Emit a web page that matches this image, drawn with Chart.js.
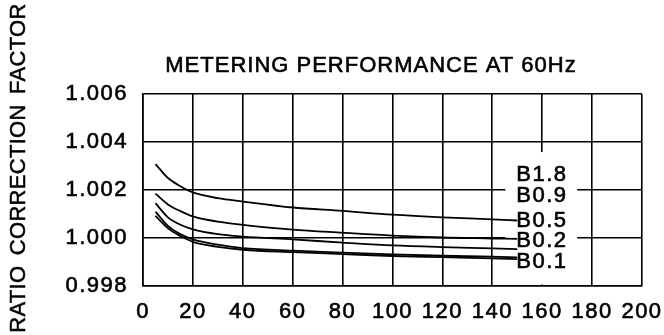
<!DOCTYPE html>
<html>
<head>
<meta charset="utf-8">
<script src="https://cdn.jsdelivr.net/npm/chart.js@4/dist/chart.umd.min.js"></script>
<style>
  html, body { margin: 0; padding: 0; background: #fff; }
  #wrap { width: 664px; height: 335px; }
</style>
</head>
<body>
<div id="wrap"><canvas id="chart"></canvas></div>
<script>
// burden curves, ratio correction factor vs % rated current
const load = [5, 10, 15, 20, 30, 40, 60, 80, 100, 120, 140, 150];
const b18 = [1.00308, 1.00250, 1.00216, 1.00190, 1.00166, 1.00152, 1.00127, 1.00113, 1.00097, 1.00086, 1.00078, 1.00073];
const b09 = [1.00185, 1.00140, 1.00112, 1.00090, 1.00068, 1.00055, 1.00035, 1.00022, 1.00010, 1.00002, 0.99998, 0.99996];
const b05 = [1.00145, 1.00086, 1.00055, 1.00036, 1.00016, 1.00006, 0.99994, 0.99981, 0.99969, 0.99962, 0.99957, 0.99954];
const b02 = [1.00110, 1.00050, 1.00016, 0.99994, 0.99972, 0.99958, 0.99947, 0.99939, 0.99932, 0.99926, 0.99922, 0.99919];
const b01 = [1.00092, 1.00040, 1.00008, 0.99984, 0.99963, 0.99951, 0.99941, 0.99933, 0.99925, 0.99920, 0.99915, 0.99912];

const burdenNames = ['B1.8', 'B0.9', 'B0.5', 'B0.2', 'B0.1'];
const burdenLabelAt = [1.00265, 1.00181, 1.00077, 0.99992, 0.99904];

const xTicks = [0, 20, 40, 60, 80, 100, 120, 140, 160, 180, 200];
const yTicks = [0.998, 1.000, 1.002, 1.004, 1.006];

const FONT = '"Liberation Sans", Arial, sans-serif';

function pts(ys) {
  return ys.map((y, i) => ({ x: load[i], y: y }));
}

// draw text slightly heavier, like the plotter font
function heavyText(ctx, str, x, y) {
  ctx.fillText(str, x, y);
  ctx.strokeText(str, x, y);
}

const cadText = {
  id: 'cadText',
  beforeLayout(chart) { chart.ctx.letterSpacing = '1.5px'; },
  beforeDraw(chart) { chart.ctx.letterSpacing = '1.5px'; },
  beforeDatasetsDraw(chart) {
    // blank the grid behind the curve labels
    const ctx = chart.ctx, xs = chart.scales.x, ys = chart.scales.y;
    const x0 = xs.getPixelForValue(145.2), x1 = xs.getPixelForValue(174);
    const y0 = ys.getPixelForValue(1.00358), y1 = chart.chartArea.bottom - 1.5;
    ctx.save();
    ctx.fillStyle = '#fff';
    ctx.fillRect(x0, y0, x1 - x0, y1 - y0);
    ctx.restore();
  },
  afterDraw(chart) {
    const ctx = chart.ctx, xs = chart.scales.x, ys = chart.scales.y;
    ctx.save();
    ctx.fillStyle = '#000';
    ctx.strokeStyle = '#000';
    ctx.lineWidth = 0.6;
    ctx.letterSpacing = '1px';
    ctx.font = '22px ' + FONT;
    ctx.textAlign = 'center';
    ctx.textBaseline = 'middle';
    heavyText(ctx, 'METERING PERFORMANCE AT 60Hz', 371, 66);

    ctx.letterSpacing = '1.5px';
    ctx.textAlign = 'left';
    burdenNames.forEach((name, i) => {
      heavyText(ctx, name, xs.getPixelForValue(150) - 1, ys.getPixelForValue(burdenLabelAt[i]) + 1);
    });
    ctx.restore();

    ctx.save();
    ctx.fillStyle = '#000';
    ctx.strokeStyle = '#000';
    ctx.lineWidth = 0.5;
    ctx.letterSpacing = '0.3px';
    ctx.wordSpacing = '4px';
    ctx.font = '22px ' + FONT;
    ctx.translate(19, 168);
    ctx.rotate(-Math.PI / 2);
    ctx.textAlign = 'center';
    ctx.textBaseline = 'middle';
    heavyText(ctx, 'RATIO CORRECTION FACTOR', 0, 0);
    ctx.restore();
  }
};

const lineStyle = {
  borderColor: '#000',
  borderWidth: 1.8,
  pointRadius: 0,
  fill: false,
  cubicInterpolationMode: 'monotone'
};

new Chart(document.getElementById('chart'), {
  type: 'line',
  data: {
    datasets: [
      Object.assign({ label: 'B1.8', data: pts(b18) }, lineStyle),
      Object.assign({ label: 'B0.9', data: pts(b09) }, lineStyle),
      Object.assign({ label: 'B0.5', data: pts(b05) }, lineStyle),
      Object.assign({ label: 'B0.2', data: pts(b02) }, lineStyle),
      Object.assign({ label: 'B0.1', data: pts(b01) }, lineStyle)
    ]
  },
  options: {
    responsive: true,
    maintainAspectRatio: false,
    animation: false,
    devicePixelRatio: 1,
    layout: { padding: { top: 94, right: 22, left: 0, bottom: 0 } },
    plugins: {
      legend: { display: false },
      tooltip: { enabled: false }
    },
    scales: {
      x: {
        type: 'linear',
        min: 0,
        max: 200,
        afterBuildTicks: (s) => { s.ticks = xTicks.map(v => ({ value: v })); },
        afterFit: (s) => { s.height = 49; s.paddingLeft = 0; s.paddingRight = 0; },
        ticks: {
          color: '#000',
          font: { family: FONT, size: 22 },
          textStrokeColor: '#000',
          textStrokeWidth: 0.6,
          padding: 13,
          maxRotation: 0,
          autoSkip: false
        },
        grid: { color: '#000', lineWidth: 1.6, drawTicks: false },
        border: { color: '#000', width: 1.6 }
      },
      y: {
        min: 0.998,
        max: 1.006,
        afterBuildTicks: (s) => { s.ticks = yTicks.map(v => ({ value: v })); },
        afterFit: (s) => { s.width = 143; s.paddingTop = 0; s.paddingBottom = 0; },
        ticks: {
          color: '#000',
          font: { family: FONT, size: 22 },
          textStrokeColor: '#000',
          textStrokeWidth: 0.6,
          padding: 15,
          callback: (v) => Number(v).toFixed(3)
        },
        grid: { color: '#000', lineWidth: 1.6, drawTicks: false },
        border: { color: '#000', width: 1.6 }
      }
    }
  },
  plugins: [cadText]
});
</script>
</body>
</html>
